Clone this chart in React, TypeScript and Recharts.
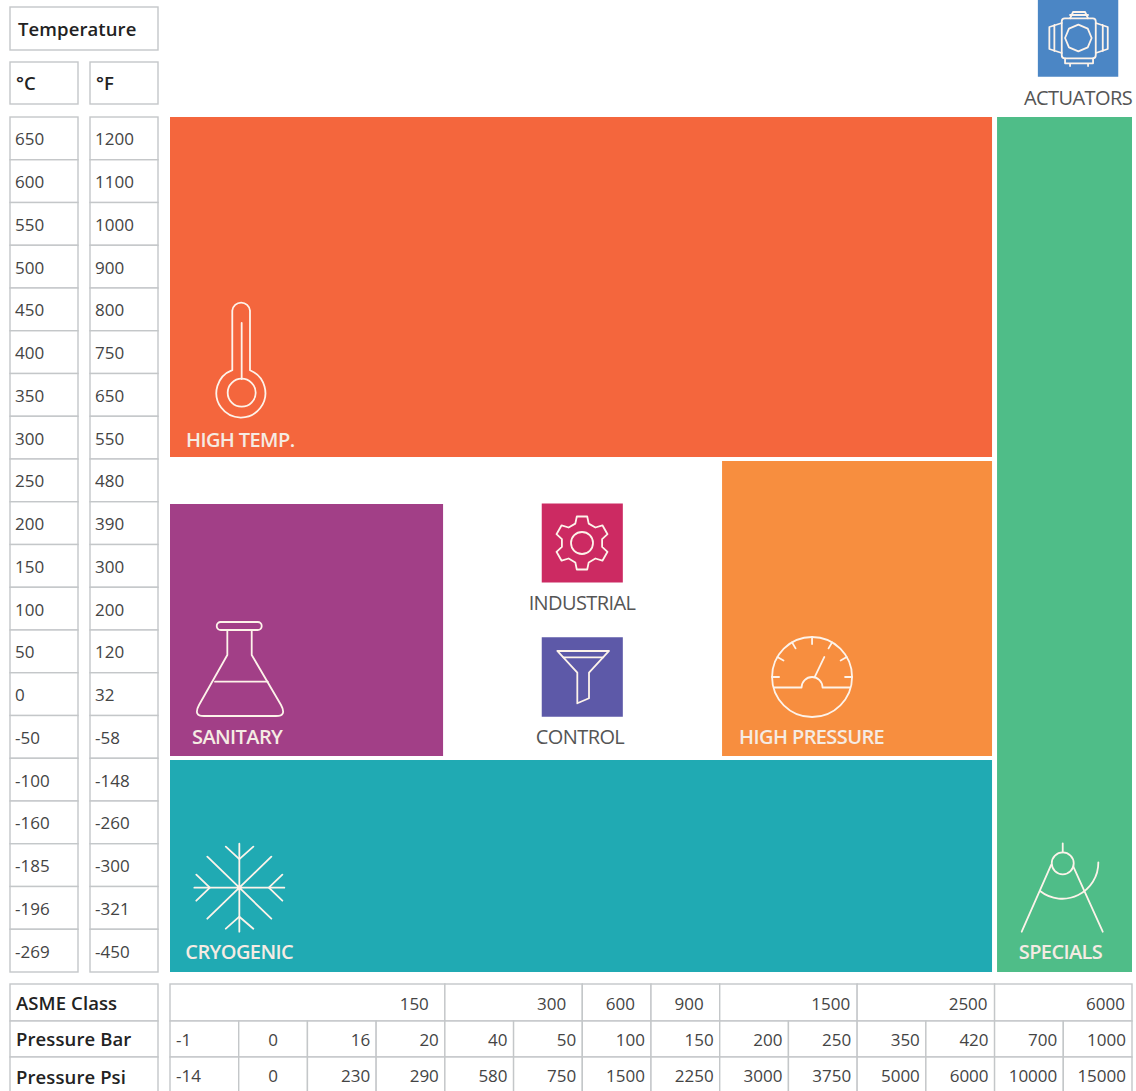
// App.tsx - pressure / temperature application map

import { ReferenceArea, Scatter, ScatterChart, XAxis, YAxis } from "recharts";

const celsius = ["650", "600", "550", "500", "450", "400", "350", "300", "250", "200", "150", "100", "50", "0", "-50", "-100", "-160", "-185", "-196", "-269"];
const fahrenheit = ["1200", "1100", "1000", "900", "800", "750", "650", "550", "480", "390", "300", "200", "120", "32", "-58", "-148", "-260", "-300", "-321", "-450"];
const pressureBar = ["-1", "0", "16", "20", "40", "50", "100", "150", "200", "250", "350", "420", "700", "1000"];
const pressurePsi = ["-14", "0", "230", "290", "580", "750", "1500", "2250", "3000", "3750", "5000", "6000", "10000", "15000"];
const asmeClass = ["150", "300", "600", "900", "1500", "2500", "6000"];
const asmeEnds = [4, 6, 7, 8, 10, 12, 14];

// regions, in pressure columns and temperature rows
const regionNames = ["highTemp", "specials", "highPressure", "sanitary", "cryogenic", "industrial", "control", "actuators"];
const regionCols = [[0, 11.963], [12.036, 14], [8.034, 11.963], [0, 3.974], [0, 11.963], [5.41, 6.59], [5.41, 6.59], [12.63, 13.8]];
const regionRows = [[0, 7.953], [0, 20], [8.047, 14.947], [9.053, 14.947], [15.041, 20], [9.04, 10.89], [12.17, 14.03], [-2.737, -0.94]];

// where each icon sits
const iconNames = ["thermo", "flask", "gauge", "snow", "compass", "gear", "funnel", "actuator"];
const iconCols = [1.033, 1.019, 9.344, 1.009, 12.992, 5.996, 5.996, 13.215];
const iconRows = [5.637, 12.889, 13.099, 18.028, 18.012, 9.965, 13.099, -1.848];

const COLORS: Record<string, string> = {
  highTemp: "#f4663d",
  specials: "#4fbd88",
  highPressure: "#f78e3f",
  sanitary: "#a23f87",
  cryogenic: "#20aab3",
  industrial: "#cc2a62",
  control: "#5d59a8",
  actuators: "#4b86c5",
};

const FONT = "'Open Sans', sans-serif";
const BORDER = "#c4c7c9";
const TEXT = "#444";
const INK = "#222";
const COL = 962 / 14;
const ROW = 42.75;

const toRange = (v: number) => v + 0.5;
const rowTicks = celsius.map((_, i) => toRange(i));
const colTicks = pressureBar.map((_, i) => toRange(i));
const iconPoints = iconNames.map((name, i) => ({ name, x: iconCols[i], y: iconRows[i] }));

function RowCell({ y, label, left, width }: any) {
  return (
    <g>
      <rect x={left} y={y - ROW / 2} width={width} height={ROW} fill="#fff" stroke={BORDER} strokeWidth={1.4} />
      <text x={left + 5} y={y + 7} fontFamily={FONT} fontSize={17} fill={TEXT}>
        {label}
      </text>
    </g>
  );
}

function ColCell({ x, label, index, top, height }: any) {
  const anchor = index === 0 ? "start" : index === 1 ? "middle" : "end";
  const tx = index === 0 ? x - COL / 2 + 6 : index === 1 ? x : x + COL / 2 - 6;
  return (
    <g>
      <rect x={x - COL / 2} y={top} width={COL} height={height} fill="#fff" stroke={BORDER} strokeWidth={1.4} />
      <text x={tx} y={top + 25} textAnchor={anchor} fontFamily={FONT} fontSize={17} fill={TEXT}>
        {label}
      </text>
    </g>
  );
}

function AsmeCell({ x, index }: any) {
  const span = asmeEnds[index] - (index === 0 ? 0 : asmeEnds[index - 1]);
  const pad = index < 4 ? 16 : 7;
  return (
    <g>
      <rect x={x - span * COL} y={984} width={span * COL} height={37} fill="#fff" stroke={BORDER} strokeWidth={1.4} />
      <text x={x - pad} y={1010} textAnchor="end" fontFamily={FONT} fontSize={17} fill={TEXT}>
        {asmeClass[index]}
      </text>
    </g>
  );
}

function gearPath() {
  const pts: string[] = [];
  for (let i = 0; i < 6; i++) {
    const a = i * 60 - 90;
    [[20.5, -19], [27, -11], [27, 11], [20.5, 19]].forEach(([r, d]) => {
      const t = ((a + d) * Math.PI) / 180;
      pts.push(`${(r * Math.cos(t)).toFixed(1)} ${(r * Math.sin(t)).toFixed(1)}`);
    });
  }
  return "M" + pts.join(" L") + " Z";
}

const ICONS: Record<string, { label: string; dark?: boolean; lx: number; ly: number; anchor?: string; draw: any }> = {
  thermo: {
    label: "HIGH TEMP.",
    lx: -55,
    ly: 89,
    draw: (
      <>
        <path d="M-8.7 12.1 V-47.4 A8.9 8.9 0 0 1 9 -47.4 V12.3 A24.5 24.5 0 1 1 -8.7 12.1" />
        <circle cx={0.7} cy={34.7} r={14} />
        <path d="M0.7 -35 V21" />
      </>
    ),
  },
  flask: {
    label: "SANITARY",
    lx: -48,
    ly: 76,
    draw: (
      <>
        <rect x={-23.3} y={-46} width={45} height={8} rx={4} />
        <path d="M-12.7 -38 V-13 L-41 37 Q-47 48 -36 48 H36 Q47 48 41 37 L11.7 -13 V-38" />
        <path d="M-25 13.7 H27.7" />
      </>
    ),
  },
  gauge: {
    label: "HIGH PRESSURE",
    lx: -73,
    ly: 67,
    draw: (
      <>
        <circle r={40} />
        <path d="M-38 10.5 H-10.5 A10.5 10.5 0 0 1 10.5 10.5 H38" />
        <path d="M2.7 0 L12.3 -20" />
        {[-90, -60, -30, 0, 30, 60, 90].map((a) => {
          const t = (a * Math.PI) / 180;
          return <line key={a} x1={33 * Math.sin(t)} y1={-33 * Math.cos(t)} x2={40 * Math.sin(t)} y2={-40 * Math.cos(t)} />;
        })}
      </>
    ),
  },
  snow: {
    label: "CRYOGENIC",
    lx: -54,
    ly: 71,
    draw: (
      <>
        <path d="M0 -44 V44 M-45 0 H45 M-32 -31 L32 31 M32 -31 L-32 31" />
        <path d="M-13.5 -41 L0 -28.5 L14 -41 M-13.5 41 L0 29 L14 41 M-43 -13 L-29.5 0 L-43 13 M43 -13 L29.5 0 L43 13" />
      </>
    ),
  },
  compass: {
    label: "SPECIALS",
    lx: -44,
    ly: 72,
    draw: (
      <>
        <circle cy={-23.7} r={11} />
        <path d="M0 -43.7 V-34.7 M-11.7 -22 L-41 44.7 M10.6 -20.3 L40 44.7" />
        <path d="M-22.7 4 A36 36 0 0 0 35.6 -24.7" />
      </>
    ),
  },
  gear: {
    label: "INDUSTRIAL",
    dark: true,
    anchor: "middle",
    lx: 0,
    ly: 67,
    draw: (
      <>
        <path d={gearPath()} />
        <circle r={11} />
      </>
    ),
  },
  funnel: {
    label: "CONTROL",
    dark: true,
    anchor: "middle",
    lx: -2,
    ly: 67,
    draw: (
      <>
        <path d="M-24.7 -26 H27 L7 -4.3 V21.3 L-4.7 26.3 V-4.3 Z" />
        <path d="M-18.7 -19.7 H21.3" />
      </>
    ),
  },
  actuator: {
    label: "ACTUATORS",
    dark: true,
    anchor: "middle",
    lx: 0,
    ly: 67,
    draw: (
      <>
        <path d="M0.3 -13.3 L9.7 -9.4 L13.6 0 L9.7 9.4 L0.3 13.3 L-9.1 9.4 L-13 0 L-9.1 -9.4 Z" />
        <rect x={-16.3} y={-19.7} width={34} height={40} rx={3} />
        <path d="M-16.3 -15 L-28.7 -11 V11 L-16.3 15 M-23.7 -13 V13 M17.7 -15 L29.7 -11 V11 L17.7 15 M24.7 -13 V13" />
        <path d="M-8 -19.7 L-5 -26 H7 L10 -19.7 M-8 -23 H10 M-13 20.3 V25.3 H15 V20.3 M-8 25.3 V28 M10 25.3 V28" />
      </>
    ),
  },
};

function IconMark({ cx, cy, payload }: any) {
  const icon = ICONS[payload.name];
  return (
    <g transform={`translate(${cx},${cy})`}>
      <g fill="none" stroke="#fdf3ea" strokeWidth={1.8} strokeLinejoin="round" strokeLinecap="round">
        {icon.draw}
      </g>
      <text
        x={icon.lx}
        y={icon.ly}
        textAnchor={icon.anchor ?? "start"}
        fontFamily={FONT}
        fontSize={20}
        fontWeight={icon.dark ? 400 : 600}
        letterSpacing={-0.6}
        fill={icon.dark ? "#555" : "#f5ebe3"}
      >
        {icon.label}
      </text>
    </g>
  );
}

function HeaderCell({ x, y, width, height, label, pad = 6 }: any) {
  return (
    <g>
      <rect x={x} y={y} width={width} height={height} fill="#fff" stroke={BORDER} strokeWidth={1.4} />
      <text x={x + pad} y={y + height / 2 + 7} fontFamily={FONT} fontSize={18.5} fontWeight={600} letterSpacing={0.1} fill={INK}>
        {label}
      </text>
    </g>
  );
}

// the chart only lays out axes that a series is bound to
const NoMark = () => <g />;

export default function App() {
  return (
    <div style={{ position: "absolute", left: 0, top: 0, width: 1136, height: 1091, background: "#fff", overflow: "hidden" }}>
      <ScatterChart width={1136} height={1091} margin={{ top: 0, right: 4, bottom: 0, left: 0 }}>
        <XAxis
          xAxisId="asme"
          dataKey="x"
          type="number"
          domain={[0, 14]}
          ticks={asmeEnds}
          interval={0}
          height={40}
          axisLine={false}
          tickLine={false}
          tick={(p: any) => <AsmeCell x={p.x} index={p.index} />}
        />
        <XAxis
          xAxisId="bar"
          dataKey="x"
          type="number"
          domain={[0, 14]}
          ticks={colTicks}
          interval={0}
          height={36}
          axisLine={false}
          tickLine={false}
          tick={(p: any) => <ColCell x={p.x} index={p.index} label={pressureBar[p.index]} top={1021} height={36} />}
        />
        <XAxis
          xAxisId="psi"
          dataKey="x"
          type="number"
          domain={[0, 14]}
          ticks={colTicks}
          interval={0}
          height={43}
          axisLine={false}
          tickLine={false}
          tick={(p: any) => <ColCell x={p.x} index={p.index} label={pressurePsi[p.index]} top={1057} height={40} />}
        />
        <YAxis
          yAxisId="c"
          dataKey="y"
          type="number"
          reversed
          domain={[-2.737, 20]}
          ticks={rowTicks}
          interval={0}
          width={85}
          axisLine={false}
          tickLine={false}
          tick={(p: any) => <RowCell y={p.y} label={celsius[p.index]} left={10} width={68} />}
        />
        <YAxis
          yAxisId="f"
          dataKey="y"
          type="number"
          reversed
          domain={[-2.737, 20]}
          ticks={rowTicks}
          interval={0}
          width={85}
          axisLine={false}
          tickLine={false}
          tick={(p: any) => <RowCell y={p.y} label={fahrenheit[p.index]} left={90} width={68} />}
        />

        {regionNames.map((name, i) => (
          <ReferenceArea
            key={name}
            xAxisId="bar"
            yAxisId="c"
            x1={regionCols[i][0]}
            x2={regionCols[i][1]}
            y1={regionRows[i][0]}
            y2={regionRows[i][1]}
            fill={COLORS[name]}
            fillOpacity={1}
            stroke="none"
            ifOverflow="visible"
          />
        ))}

        <Scatter data={iconPoints} xAxisId="asme" yAxisId="f" dataKey="y" isAnimationActive={false} shape={NoMark} />
        <Scatter data={iconPoints} xAxisId="psi" yAxisId="f" dataKey="y" isAnimationActive={false} shape={NoMark} />
        <Scatter
          data={iconPoints}
          xAxisId="bar"
          yAxisId="c"
          dataKey="y"
          isAnimationActive={false}
          shape={(p: any) => <IconMark {...p} />}
        />

        <HeaderCell x={10} y={7} width={148} height={43} label="Temperature" pad={8} />
        <HeaderCell x={10} y={62} width={68} height={42} label="°C" />
        <HeaderCell x={90} y={62} width={68} height={42} label="°F" />
        <HeaderCell x={10} y={984} width={148} height={37} label="ASME Class" />
        <HeaderCell x={10} y={1021} width={148} height={36} label="Pressure Bar" />
        <HeaderCell x={10} y={1057} width={148} height={40} label="Pressure Psi" />
      </ScatterChart>
    </div>
  );
}
